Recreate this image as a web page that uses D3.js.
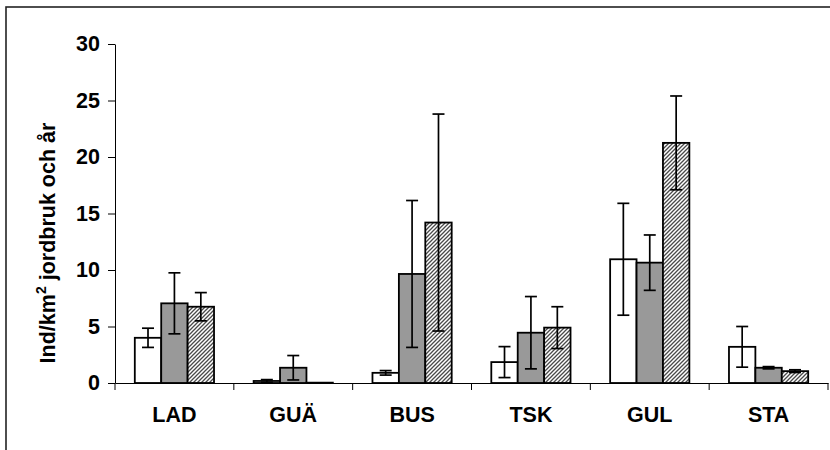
<!DOCTYPE html>
<html lang="sv">
<head>
  <meta charset="UTF-8">
  <title>Ind/km2 jordbruk och år</title>
  <script src="https://d3js.org/d3.v7.min.js"></script>
  <style>
    body { margin: 0; background: #fff; }
    svg { display: block; font-family: Arial, "Liberation Sans", sans-serif; }
    .tick text, .lbl { font-weight: bold; }
  </style>
</head>
<body>
  <svg width="830" height="450"></svg>

  <script>
    // values
    const categories = [`LAD`, `GUÄ`, `BUS`, `TSK`, `GUL`, `STA`];
    const series = [`white`, `grey`, `hatched`];
    const whiteVals = [4.0, 0.18, 0.9, 1.85, 10.95, 3.2];
    const whiteErr  = [0.85, 0.12, 0.2, 1.37, 4.95, 1.8];
    const greyVals  = [7.05, 1.35, 9.65, 4.45, 10.65, 1.35];
    const greyErr   = [2.7, 1.08, 6.5, 3.2, 2.45, 0.1];
    const hatchVals = [6.75, 0.03, 14.2, 4.9, 21.25, 1.05];
    const hatchErr  = [1.25, 0, 9.6, 1.85, 4.15, 0.12];
    const yTicks = [0, 5, 10, 15, 20, 25, 30];

    const vals = [whiteVals, greyVals, hatchVals];
    const errs = [whiteErr, greyErr, hatchErr];

    const margin = {top: 44, left: 115, right: 2, bottom: 67};
    const width = 830;
    const height = 450;
    const fontSize = 21.5;

    const svg = d3.select(`svg`);

    const defs = svg.append(`defs`);
    const pat = defs.append(`pattern`)
      .attr(`id`, `hatch`)
      .attr(`patternUnits`, `userSpaceOnUse`)
      .attr(`width`, 4)
      .attr(`height`, 4);
    pat.append(`rect`).attr(`width`, 4).attr(`height`, 4).attr(`fill`, `#fff`);
    pat.append(`path`)
      .attr(`d`, `M-1,1 l2,-2 M0,4 l4,-4 M3,5 l2,-2`)
      .attr(`stroke`, `#4a4a4a`)
      .attr(`stroke-width`, 1.3);

    const fills = [`#ffffff`, `#999999`, `url(#hatch)`];

    // outer chart frame (only top and left edges show)
    svg.append(`rect`)
      .attr(`x`, 6).attr(`y`, 7)
      .attr(`width`, 900).attr(`height`, 600)
      .attr(`fill`, `none`)
      .attr(`stroke`, `#222`)
      .attr(`stroke-width`, 1.6);

    const x = d3.scaleBand()
      .domain(categories)
      .range([margin.left, width - margin.right]);

    const xInner = d3.scaleBand()
      .domain(series)
      .range([0, x.bandwidth()])
      .paddingInner(0)
      .paddingOuter(0.75);

    const y = d3.scaleLinear()
      .domain([0, 30])
      .range([height - margin.bottom, margin.top]);

    const rows = categories.map((c, i) => series.map((s, j) => ({
      cat: c, s, j, v: vals[j][i], e: errs[j][i],
    }))).flat();

    // bars
    svg.append(`g`).selectAll(`rect`)
      .data(rows)
      .join(`rect`)
      .attr(`x`, d => x(d.cat) + xInner(d.s))
      .attr(`y`, d => y(d.v))
      .attr(`width`, xInner.bandwidth())
      .attr(`height`, d => y(0) - y(d.v))
      .attr(`fill`, d => fills[d.j])
      .attr(`stroke`, `#000`)
      .attr(`stroke-width`, 1.8);

    // error bars
    const cap = 6;
    const eb = svg.append(`g`)
      .attr(`stroke`, `#000`)
      .attr(`stroke-width`, 1.7)
      .selectAll(`g`)
      .data(rows.filter(d => d.e > 0))
      .join(`g`)
      .attr(`transform`, d => `translate(${x(d.cat) + xInner(d.s) + xInner.bandwidth() / 2},0)`);
    eb.append(`line`)
      .attr(`y1`, d => y(d.v + d.e))
      .attr(`y2`, d => y(d.v - d.e));
    eb.append(`line`)
      .attr(`x1`, -cap).attr(`x2`, cap)
      .attr(`y1`, d => y(d.v + d.e)).attr(`y2`, d => y(d.v + d.e));
    eb.append(`line`)
      .attr(`x1`, -cap).attr(`x2`, cap)
      .attr(`y1`, d => y(d.v - d.e)).attr(`y2`, d => y(d.v - d.e));

    // y axis
    const yAxis = d3.axisLeft(y)
      .tickValues(yTicks)
      .tickSize(7)
      .tickPadding(8)
      .tickSizeOuter(0);
    const gy = svg.append(`g`)
      .attr(`transform`, `translate(${margin.left},0)`)
      .call(yAxis);
    gy.selectAll(`text`).attr(`font-size`, fontSize).attr(`fill`, `#000`);
    gy.selectAll(`line, path`).attr(`stroke`, `#000`);

    // x axis with labels at the centres and ticks between categories
    const xAxis = d3.axisBottom(x).tickSize(0).tickPadding(24).tickSizeOuter(0);
    const gx = svg.append(`g`)
      .attr(`transform`, `translate(0,${y(0)})`)
      .call(xAxis);
    gx.selectAll(`text`).attr(`font-size`, fontSize).attr(`fill`, `#000`);
    gx.select(`.domain`).attr(`stroke`, `#000`);

    const bounds = categories.map(c => x(c)).concat([x.range()[1]]);
    gx.selectAll(`.sep`)
      .data(bounds)
      .join(`line`)
      .attr(`class`, `sep`)
      .attr(`x1`, d => d).attr(`x2`, d => d)
      .attr(`y1`, 0).attr(`y2`, 7)
      .attr(`stroke`, `#000`);

    // y title
    const title = svg.append(`text`)
      .attr(`class`, `lbl`)
      .attr(`transform`, `translate(55,243) rotate(-90)`)
      .attr(`text-anchor`, `middle`)
      .attr(`font-size`, fontSize);
    title.append(`tspan`).text(`Ind/km`);
    title.append(`tspan`).attr(`dy`, -9).attr(`font-size`, 14).text(`2`);
    title.append(`tspan`).attr(`dy`, 9).text(` jordbruk och år`);
  </script>
</body>
</html>
